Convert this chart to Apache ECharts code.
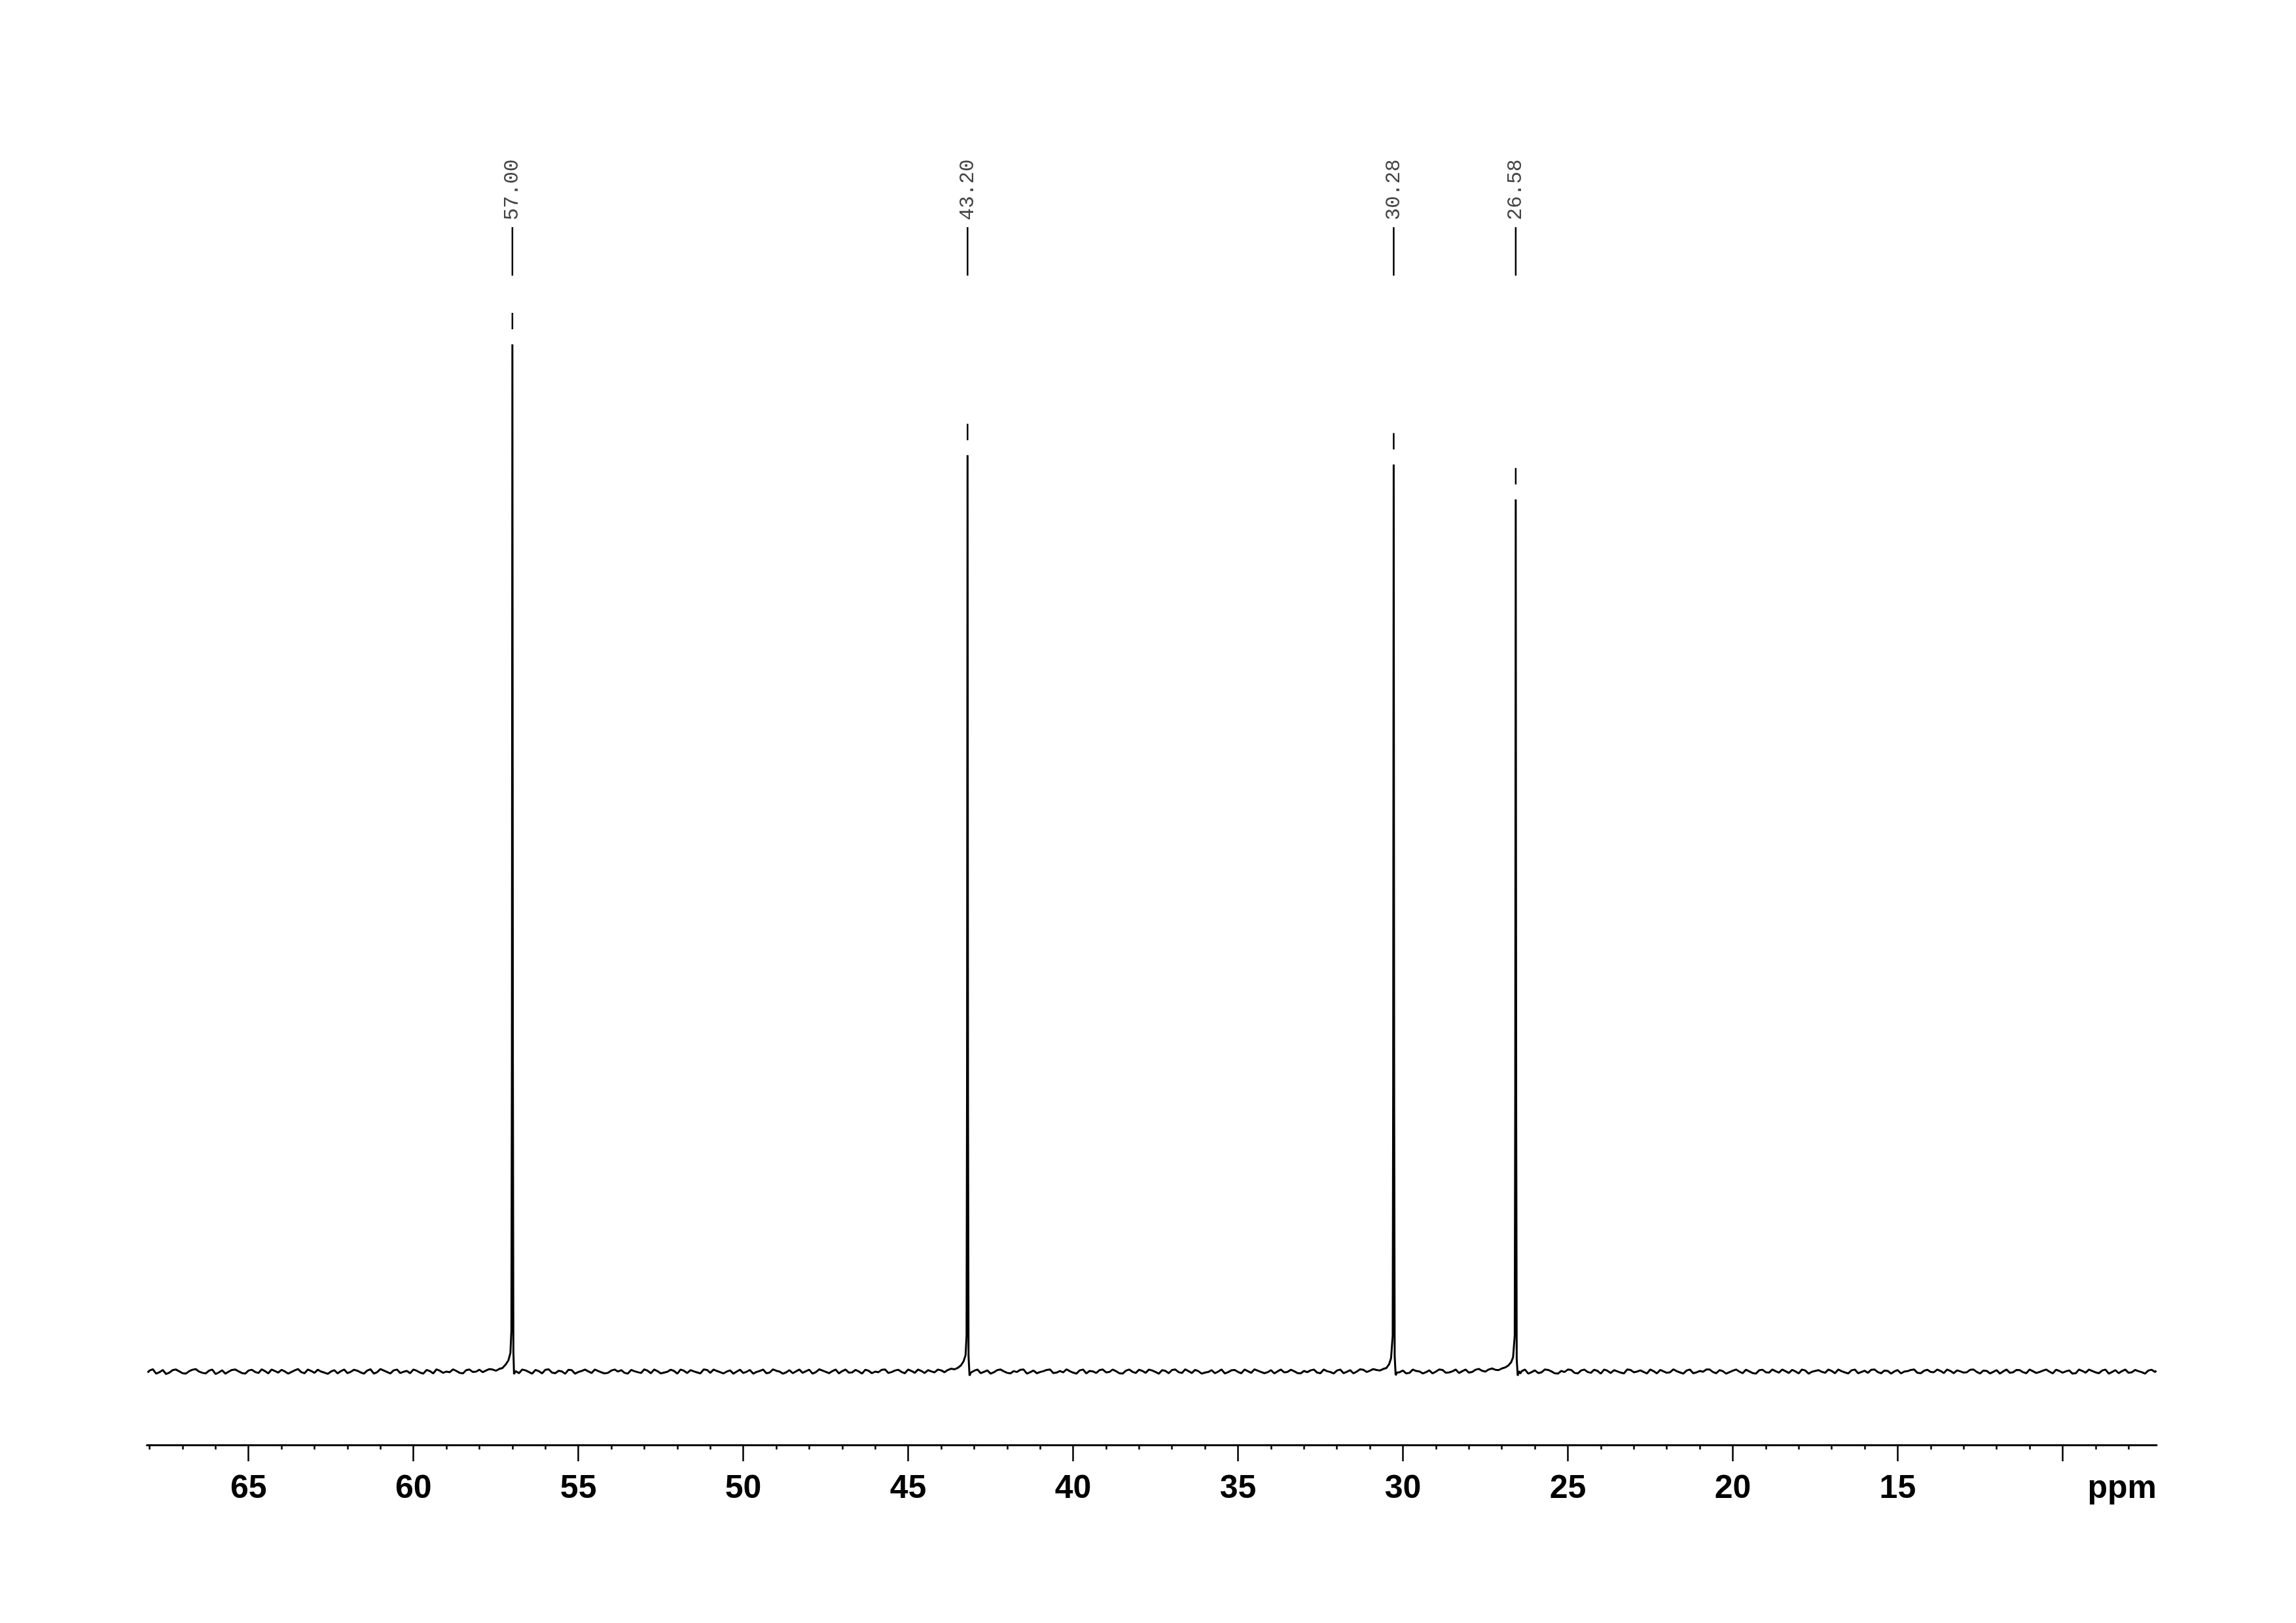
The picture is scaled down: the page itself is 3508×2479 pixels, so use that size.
<!DOCTYPE html>
<html>
<head>
<meta charset="utf-8">
<script src="https://cdn.jsdelivr.net/npm/echarts@6/dist/echarts.min.js"></script>
<style>
html,body{margin:0;padding:0;background:#fff;}
#chart{width:3508px;height:2479px;}
</style>
</head>
<body>
<div id="chart"></div>
<script>
// ---- data (ppm, intensity) ----
var baselineA = [[68.06,-0.1],[68.0,0.1],[67.8,-0.2],[67.6,0.16],[67.4,-0.1],[67.2,0.2],[67.0,-0.16],[66.8,0.04],[66.6,0.24],[66.4,-0.12],[66.2,0.08],[66.0,-0.24],[65.8,0.12],[65.6,0.0],[65.4,0.2],[65.2,-0.14],[65.0,0.1],[64.8,-0.04],[64.6,0.22],[64.4,-0.18],[64.2,0.06],[64.0,0.16],[63.8,-0.2],[63.6,0.12],[63.4,-0.06],[63.2,0.2],[63.0,-0.12],[62.8,0.0],[62.6,-0.22],[62.4,0.14],[62.2,0.04],[62.0,-0.16],[61.8,0.18],[61.6,-0.08],[61.4,0.1],[61.2,-0.2],[61.0,0.24],[60.8,-0.04],[60.6,0.12],[60.4,-0.14],[60.2,0.06],[60.0,0.2],[59.8,-0.1],[59.6,0.16],[59.4,-0.18],[59.2,0.08],[59.0,0.0],[58.8,0.22],[58.6,-0.12],[58.4,0.14],[58.2,-0.04],[58.0,0.18],[57.8,0.1],[57.6,0.2],[57.4,0.25]];
var baselineFineA = [[67.9,0.22],[67.7,-0.06],[67.5,-0.24],[67.3,0.14],[67.1,0.02],[66.9,-0.2],[66.7,0.18],[66.5,0.0],[66.3,-0.18],[66.1,0.2],[65.9,-0.08],[65.7,-0.2],[65.5,0.16],[65.3,0.02],[65.1,-0.2],[64.9,0.18],[64.7,-0.14],[64.5,0.04],[64.3,0.2],[64.1,-0.1],[63.9,0.02],[63.7,-0.04],[63.5,0.24],[63.3,-0.16],[63.1,0.06],[62.9,0.18],[62.7,-0.1],[62.5,0.0],[62.3,-0.18],[62.1,0.2],[61.9,-0.02],[61.7,0.08],[61.5,-0.2],[61.3,0.22],[61.1,-0.06],[60.9,0.1],[60.7,-0.18],[60.5,0.2],[60.3,-0.02],[60.1,-0.16],[59.9,0.08],[59.7,-0.2],[59.5,0.04],[59.3,0.22],[59.1,-0.12],[58.9,-0.06],[58.7,0.06],[58.5,-0.18],[58.3,0.2],[58.1,0.0],[57.9,-0.06],[57.7,0.24],[57.5,0.08]];
var peak1 = [[57.3,0.35],[57.2,0.7],[57.12,1.1],[57.06,1.8],[57.03,4],[57.015,30],[57.0,100],[56.985,30],[56.97,2],[56.95,-0.25],[56.9,0.05]];
var baselineB = [[56.8,-0.16],[56.6,0.12],[56.4,-0.2],[56.2,0.04],[56.0,0.18],[55.8,-0.1],[55.6,0.08],[55.4,-0.22],[55.2,0.14],[55.0,-0.04],[54.8,0.2],[54.6,-0.14],[54.4,0.06],[54.2,-0.18],[54.0,0.1],[53.8,0.0],[53.6,-0.12],[53.4,0.16],[53.2,-0.06],[53.0,0.22],[52.8,-0.16],[52.6,0.04],[52.4,-0.1],[52.2,0.18],[52.0,-0.2],[51.8,0.08],[51.6,0.14],[51.4,-0.08],[51.2,0.2],[51.0,-0.12],[50.8,0.06],[50.6,-0.18],[50.4,0.12],[50.2,0.0],[50.0,-0.14],[49.8,0.16],[49.6,-0.04],[49.4,0.2],[49.2,-0.1],[49.0,0.08],[48.8,-0.2],[48.6,0.14],[48.4,0.02],[48.2,-0.12],[48.0,0.18],[47.8,-0.06],[47.6,0.1],[47.4,-0.16],[47.2,0.2],[47.0,0.04],[46.8,-0.1],[46.6,0.16],[46.4,-0.2],[46.2,0.08],[46.0,0.0],[45.8,0.18],[45.6,-0.14],[45.4,0.1],[45.2,-0.04],[45.0,0.2],[44.8,-0.12],[44.6,0.06],[44.4,0.14],[44.2,-0.08],[44.0,0.12],[43.8,0.15],[43.6,0.22]];
var baselineFineB = [[56.7,0.2],[56.5,-0.04],[56.3,0.16],[56.1,-0.18],[55.9,0.22],[55.7,-0.16],[55.5,0.02],[55.3,0.18],[55.1,-0.2],[54.9,0.06],[54.7,0.02],[54.5,0.2],[54.3,-0.08],[54.1,-0.12],[53.9,0.2],[53.7,0.14],[53.5,-0.2],[53.3,0.04],[53.1,-0.14],[52.9,0.08],[52.7,0.2],[52.5,-0.18],[52.3,-0.02],[52.1,0.06],[51.9,0.2],[51.7,-0.14],[51.5,0.02],[51.3,-0.18],[51.1,0.16],[50.9,0.2],[50.7,-0.06],[50.5,0.0],[50.3,-0.2],[50.1,0.18],[49.9,-0.02],[49.7,-0.2],[49.5,0.06],[49.3,-0.16],[49.1,0.22],[48.9,0.0],[48.7,-0.08],[48.5,-0.16],[48.3,0.2],[48.1,0.04],[47.9,-0.2],[47.7,0.22],[47.5,-0.02],[47.3,0.04],[47.1,-0.18],[46.9,0.2],[46.7,-0.08],[46.5,0.02],[46.3,0.18],[46.1,-0.16],[45.9,-0.06],[45.7,0.2],[45.5,-0.04],[45.3,0.18],[45.1,-0.16],[44.9,0.06],[44.7,0.2],[44.5,-0.14],[44.3,0.02],[44.1,0.2],[43.9,-0.06],[43.7,0.28]];
var peak2 = [[43.5,0.35],[43.4,0.6],[43.32,1.0],[43.26,1.6],[43.23,3.5],[43.215,28],[43.2,89.2],[43.185,25],[43.17,1.5],[43.14,-0.4],[43.1,-0.1]];
var baselineC = [[43.0,0.08],[42.8,-0.16],[42.6,0.12],[42.4,-0.06],[42.2,0.2],[42.0,-0.12],[41.8,0.04],[41.6,0.18],[41.4,-0.2],[41.2,0.1],[41.0,-0.04],[40.8,0.16],[40.6,-0.14],[40.4,0.06],[40.2,0.22],[40.0,-0.1],[39.8,0.12],[39.6,-0.18],[39.4,0.02],[39.2,0.14],[39.0,-0.08],[38.8,0.2],[38.6,-0.16],[38.4,0.08],[38.2,-0.02],[38.0,0.18],[37.8,-0.12],[37.6,0.1],[37.4,-0.2],[37.2,0.06],[37.0,0.16],[36.8,-0.06],[36.6,0.22],[36.4,-0.14],[36.2,0.04],[36.0,-0.1],[35.8,0.14],[35.6,0.0],[35.4,-0.18],[35.2,0.12],[35.0,-0.04],[34.8,0.2],[34.6,-0.12],[34.4,0.08],[34.2,-0.16],[34.0,0.14],[33.8,0.02],[33.6,-0.08],[33.4,0.18],[33.2,-0.14],[33.0,0.06],[32.8,0.12],[32.6,-0.1],[32.4,0.2],[32.2,-0.04],[32.0,0.1],[31.8,-0.16],[31.6,0.14],[31.4,0.0],[31.2,0.18],[31.0,0.08],[30.8,0.16],[30.6,0.25]];
var baselineFineC = [[42.9,0.2],[42.7,-0.02],[42.5,-0.2],[42.3,0.14],[42.1,0.02],[41.9,-0.18],[41.7,-0.04],[41.5,0.2],[41.3,-0.06],[41.1,-0.16],[40.9,0.04],[40.7,0.2],[40.5,-0.1],[40.3,-0.08],[40.1,0.04],[39.9,-0.2],[39.7,0.2],[39.5,0.06],[39.3,-0.14],[39.1,0.2],[38.9,-0.04],[38.7,0.04],[38.5,-0.2],[38.3,0.2],[38.1,-0.14],[37.9,0.06],[37.7,0.2],[37.5,-0.04],[37.3,0.14],[37.1,-0.16],[36.9,0.2],[36.7,-0.14],[36.5,0.04],[36.3,0.16],[36.1,-0.2],[35.9,-0.04],[35.7,-0.16],[35.5,0.2],[35.3,-0.06],[35.1,0.16],[34.9,-0.16],[34.7,0.04],[34.5,0.22],[34.3,-0.04],[34.1,-0.06],[33.9,-0.18],[33.7,0.2],[33.5,-0.04],[33.3,0.04],[33.1,-0.18],[32.9,-0.06],[32.7,0.2],[32.5,-0.16],[32.3,0.04],[32.1,-0.18],[31.9,0.2],[31.7,-0.02],[31.5,-0.18],[31.3,0.22],[31.1,-0.04],[30.9,0.24],[30.7,0.1]];
var peak3 = [[30.5,0.35],[30.42,0.7],[30.36,1.3],[30.31,3.5],[30.295,28],[30.28,88.3],[30.265,25],[30.25,1.5],[30.22,-0.35],[30.18,-0.1]];
var baselineD = [[30.0,0.1],[29.8,-0.12],[29.6,0.06],[29.4,-0.18],[29.2,0.12],[29.0,0.0],[28.8,0.16],[28.6,-0.08],[28.4,0.2],[28.2,0.04],[28.0,-0.1],[27.8,0.18],[27.6,0.08],[27.4,0.2],[27.2,0.18],[27.0,0.3],[26.9,0.4],[26.8,0.6]];
var baselineFineD = [[30.1,-0.06],[29.9,-0.18],[29.7,0.2],[29.5,0.02],[29.3,-0.06],[29.1,-0.18],[28.9,0.2],[28.7,-0.12],[28.5,0.02],[28.3,-0.14],[28.1,0.2],[27.9,-0.04],[27.7,0.26],[27.5,0.0],[27.3,0.3],[27.1,0.14]];
var peak4 = [[26.72,0.9],[26.66,1.4],[26.61,3.5],[26.595,27],[26.58,84.9],[26.565,24],[26.55,1.2],[26.52,-0.4],[26.48,0.05],[26.44,-0.2]];
var baselineE = [[26.4,0.04],[26.2,-0.2],[26.0,0.12],[25.8,-0.08],[25.6,0.16],[25.4,-0.16],[25.2,0.06],[25.0,0.2],[24.8,-0.12],[24.6,0.1],[24.4,-0.04],[24.2,0.18],[24.0,-0.2],[23.8,0.08],[23.6,0.14],[23.4,-0.1],[23.2,0.2],[23.0,-0.06],[22.8,0.12],[22.6,-0.18],[22.4,0.04],[22.2,0.16],[22.0,-0.12],[21.8,0.22],[21.6,-0.08],[21.4,0.1],[21.2,-0.16],[21.0,0.06],[20.8,0.2],[20.6,-0.04],[20.4,0.14],[20.2,-0.2],[20.0,0.08],[19.8,0.0],[19.6,0.18],[19.4,-0.14],[19.2,0.12],[19.0,-0.06],[18.8,0.2],[18.6,-0.1],[18.4,0.04],[18.2,0.16],[18.0,-0.18],[17.8,0.1],[17.6,-0.02],[17.4,0.14],[17.2,-0.12],[17.0,0.06],[16.8,0.2],[16.6,-0.08],[16.4,0.12],[16.2,-0.16],[16.0,0.08],[15.8,0.18],[15.6,-0.06],[15.4,0.1],[15.2,-0.2],[15.0,0.14],[14.8,0.0],[14.6,0.16],[14.4,-0.12],[14.2,0.08],[14.0,-0.04],[13.8,0.2],[13.6,-0.14],[13.4,0.06],[13.2,0.12],[13.0,-0.1],[12.8,0.18],[12.6,-0.04],[12.4,0.1],[12.2,-0.18],[12.0,0.14],[11.8,0.02],[11.6,-0.12],[11.4,0.16],[11.2,-0.06],[11.0,0.2],[10.8,-0.14],[10.6,0.08],[10.4,0.0],[10.2,0.18],[10.0,-0.1],[9.8,0.12],[9.6,-0.16],[9.4,0.06],[9.2,0.2],[9.0,-0.08],[8.8,0.1],[8.6,-0.2],[8.4,0.14],[8.2,0.04],[8.0,-0.12],[7.8,0.16],[7.6,-0.06],[7.4,0.1],[7.2,-0.04],[7.16,0.08]];
var baselineFineE = [[26.3,0.2],[26.1,-0.06],[25.9,-0.14],[25.7,0.2],[25.5,0.02],[25.3,-0.2],[25.1,-0.04],[24.9,0.16],[24.7,-0.18],[24.5,0.2],[24.3,-0.12],[24.1,0.06],[23.9,0.2],[23.7,-0.14],[23.5,0.02],[23.3,-0.18],[23.1,0.16],[22.9,0.0],[22.7,-0.04],[22.5,0.2],[22.3,-0.18],[22.1,0.02],[21.9,-0.06],[21.7,0.04],[21.5,-0.2],[21.3,0.2],[21.1,-0.08],[20.9,-0.02],[20.7,0.2],[20.5,-0.16],[20.3,0.04],[20.1,-0.06],[19.9,0.2],[19.7,-0.16],[19.5,0.02],[19.3,-0.2],[19.1,0.18],[18.9,-0.1],[18.7,0.04],[18.5,0.2],[18.3,-0.14],[18.1,0.02],[17.9,0.2],[17.7,-0.2],[17.5,0.06],[17.3,-0.02],[17.1,0.2],[16.9,-0.16],[16.7,0.04],[16.5,-0.18],[16.3,0.2],[16.1,-0.04],[15.9,-0.12],[15.7,0.2],[15.5,-0.16],[15.3,0.06],[15.1,0.02],[14.9,-0.18],[14.7,0.04],[14.5,0.2],[14.3,-0.16],[14.1,0.18],[13.9,-0.06],[13.7,0.06],[13.5,0.2],[13.3,-0.16],[13.1,0.02],[12.9,-0.06],[12.7,0.2],[12.5,-0.18],[12.3,0.06],[12.1,-0.02],[11.9,-0.2],[11.7,0.2],[11.5,-0.06],[11.3,0.14],[11.1,-0.16],[10.9,0.04],[10.7,-0.04],[10.5,0.2],[10.3,-0.18],[10.1,0.06],[9.9,0.02],[9.7,-0.2],[9.5,0.2],[9.3,-0.1],[9.1,0.06],[8.9,-0.16],[8.7,0.2],[8.5,-0.04],[8.3,-0.16],[8.1,0.2],[7.9,-0.06],[7.7,0.04],[7.5,-0.2],[7.3,0.18]];

var peakPpm = [57.00, 43.20, 30.28, 26.58];
var peakHeight = [100, 89.2, 88.3, 84.9];
var peakLabels = ['57.00', '43.20', '30.28', '26.58'];

var majorTicks = [65, 60, 55, 50, 45, 40, 35, 30, 25, 20, 15, 10];
var tickLabels = [65, 60, 55, 50, 45, 40, 35, 30, 25, 20, 15];
var minorTicks = [68,67,66,65,64,63,62,61,60,59,58,57,56,55,54,53,52,51,50,49,48,47,46,45,44,43,42,41,40,39,38,37,36,35,34,33,32,31,30,29,28,27,26,25,24,23,22,21,20,19,18,17,16,15,14,13,12,11,10,9,8];
var axisUnit = 'ppm';

// ---- chart ----
var spectrum = [].concat(baselineA, baselineFineA, peak1, baselineB, baselineFineB, peak2,
  baselineC, baselineFineC, peak3, baselineD, baselineFineD, peak4, baselineE, baselineFineE);
spectrum.sort(function (a, b) { return b[0] - a[0]; });
var peakData = peakPpm.map(function (p, i) { return [p, peakHeight[i]]; });

var X_MIN = 7.15, X_MAX = 68.08;
var GRID = { left: 224.5, right: 213, top: 369, bottom: 272 };
var AXIS_Y = 2479 - GRID.bottom;
var LABEL_MARGIN = 42;
var labelFont = '"Liberation Sans", Arial, Helvetica, sans-serif';

var chart = echarts.init(document.getElementById('chart'), null, { renderer: 'canvas' });
chart.setOption({
  backgroundColor: '#ffffff',
  animation: false,
  grid: [
    { left: GRID.left, right: GRID.right, top: GRID.top, bottom: GRID.bottom, containLabel: false },
    { left: GRID.left, right: GRID.right, top: GRID.top, bottom: GRID.bottom, containLabel: false }
  ],
  xAxis: [
    {
      type: 'value', gridIndex: 0, min: X_MIN, max: X_MAX, inverse: true, position: 'bottom',
      axisLine: { show: true, onZero: false, lineStyle: { color: '#000', width: 3 } },
      axisTick: { show: true, customValues: minorTicks, length: 7, lineStyle: { color: '#000', width: 2.5 } },
      axisLabel: { show: false },
      splitLine: { show: false }
    },
    {
      type: 'value', gridIndex: 1, min: X_MIN, max: X_MAX, inverse: true, position: 'bottom',
      axisLine: { show: false, onZero: false },
      axisTick: { show: true, customValues: majorTicks, length: 25, lineStyle: { color: '#000', width: 2.5 } },
      axisLabel: {
        show: true, customValues: tickLabels, margin: LABEL_MARGIN,
        fontSize: 50, fontWeight: 'bold', fontFamily: labelFont, color: '#000'
      },
      splitLine: { show: false }
    }
  ],
  yAxis: [
    { type: 'value', gridIndex: 0, min: -7.14, max: 110, show: false, splitLine: { show: false } },
    { type: 'value', gridIndex: 1, min: -7.14, max: 110, show: false, splitLine: { show: false } }
  ],
  graphic: [
    {
      type: 'text', x: 3508 - GRID.right, y: AXIS_Y + LABEL_MARGIN,
      style: { text: axisUnit, font: 'bold 50px ' + labelFont, fill: '#000', align: 'right', verticalAlign: 'top' }
    }
  ],
  series: [
    {
      type: 'line', xAxisIndex: 0, yAxisIndex: 0,
      data: spectrum, showSymbol: false, symbol: 'none', smooth: false,
      lineStyle: { color: '#000', width: 3 }, clip: false, z: 3
    },
    {
      type: 'custom', xAxisIndex: 0, yAxisIndex: 0, data: peakData, clip: false, z: 4,
      renderItem: function (params, api) {
        var x = api.coord([api.value(0), 0])[0];
        var top = api.coord([api.value(0), api.value(1)])[1];
        return {
          type: 'group',
          children: [
            {
              type: 'text', x: x, y: 290, rotation: Math.PI / 2,
              style: { text: peakLabels[params.dataIndex], font: '31px "Liberation Mono", "DejaVu Sans Mono", monospace', fill: '#444', align: 'center', verticalAlign: 'middle' }
            },
            { type: 'line', shape: { x1: x, y1: 347, x2: x, y2: 421 }, style: { stroke: '#000', lineWidth: 2.5 } },
            { type: 'line', shape: { x1: x, y1: top - 48, x2: x, y2: top - 23 }, style: { stroke: '#000', lineWidth: 2.5 } }
          ]
        };
      }
    }
  ]
});
</script>
</body>
</html>
